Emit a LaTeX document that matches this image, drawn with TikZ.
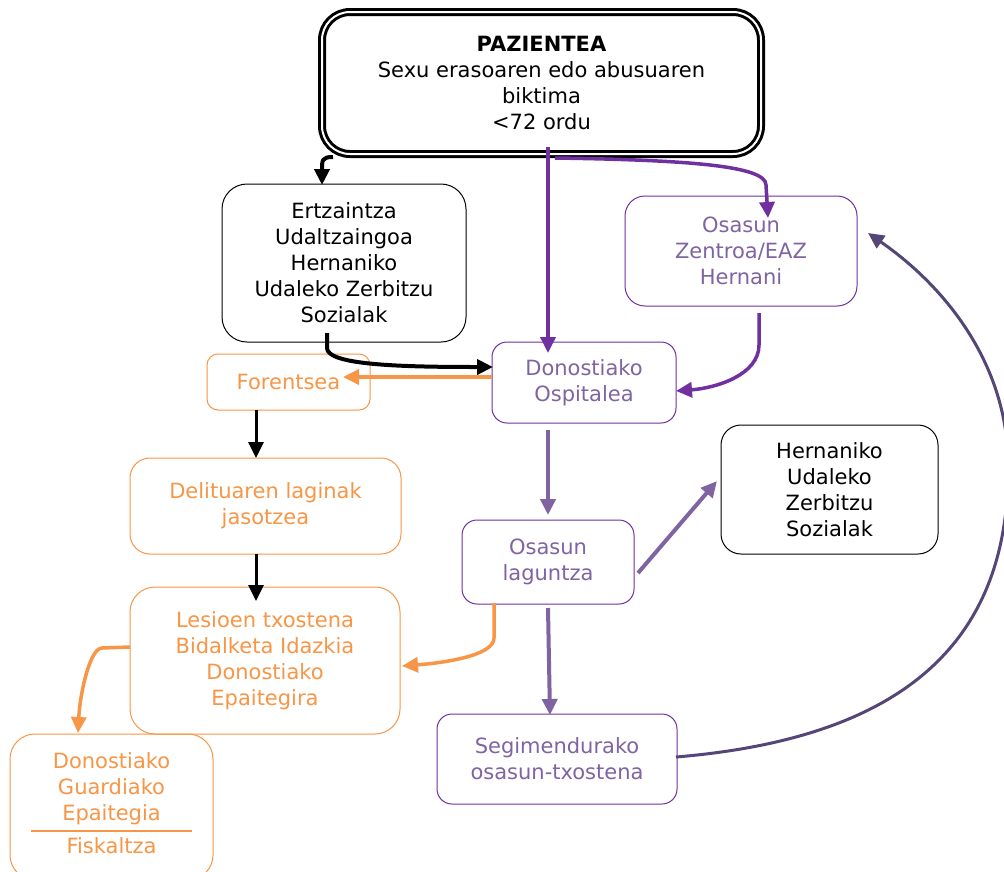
\documentclass[tikz,border=0pt]{standalone}
\usepackage{fontspec}
\setmainfont{DejaVu Sans}
\usetikzlibrary{arrows.meta,calc}
\definecolor{orng}{HTML}{F79646}
\definecolor{purtxt}{HTML}{8064A2}
\definecolor{purdk}{HTML}{7030A0}
\definecolor{curvec}{RGB}{85,70,120}
\begin{document}
\begin{tikzpicture}[x=1pt,y=-1pt,
  box/.style={draw, rounded corners=#1, align=center, inner sep=0pt, outer sep=0pt,
    font=\fontsize{21}{26}\selectfont, line width=1pt},
  box/.default=20pt,
  txt/.style={align=center, inner sep=0pt, outer sep=0pt, font=\fontsize{21}{26}\selectfont},
  tip/.style={-{Triangle[length=16pt,width=15pt]}},
  blk/.style={draw=black, line width=4pt, tip},
  blkthin/.style={draw=black, line width=3pt, tip},
  org/.style={draw=orng, line width=3.5pt, tip},
  pdk/.style={draw=purdk, line width=3.5pt, tip},
  plt/.style={draw=purtxt, line width=4pt, tip},
  crv/.style={draw=curvec, line width=3pt, tip},
]
\useasboundingbox[fill=white] (0,0) rectangle (1004,871);

% nodes
\node[box=28pt, draw=black, line width=3pt, double=white, double distance=2pt,
  minimum width=439pt, minimum height=142pt] (paz) at (541.5,83)
  {\textbf{PAZIENTEA}\\Sexu erasoaren edo abusuaren\\biktima\\<72 ordu};
\node[box=25pt, draw=black, minimum width=244pt, minimum height=158pt] (ertz) at (344,263)
  {Ertzaintza\\Udaltzaingoa\\Hernaniko\\Udaleko Zerbitzu\\Sozialak};
\node[box=11pt, draw=orng, text=orng, minimum width=163pt, minimum height=56pt] (for) at (288.5,382)
  {Forentsea};
\node[box=20pt, draw=orng, text=orng, minimum width=271pt, minimum height=96pt] (del) at (265.5,506)
  {Delituaren laginak\\jasotzea\rule[-4pt]{0pt}{4pt}};
\node[box=25pt, draw=orng, text=orng, minimum width=270pt, minimum height=147pt] (les) at (265,660.5)
  {Lesioen txostena\\Bidalketa Idazkia\\Donostiako\\Epaitegira};
\node[box=25pt, draw=orng, minimum width=203pt, minimum height=146pt] (gua) at (111.5,807) {};
\node[txt, text=orng] (guat) at (111.5,789) {Donostiako\\Guardiako\\Epaitegia};
\node[txt, text=orng] (fisk) at (111.5,846) {Fiskaltza};
\draw[orng, line width=2pt] ($(gua.south west)+(21,-49)$) -- ($(gua.south east)+(-21,-49)$);

\node[box=15pt, draw=purdk, text=purtxt, minimum width=184pt, minimum height=81pt] (osp) at (584,382.5)
  {Donostiako\\Ospitalea};
\node[box=20pt, draw=purdk, text=purtxt, minimum width=232pt, minimum height=110pt] (zen) at (741,251)
  {Osasun\\Zentroa/EAZ\\Hernani};
\node[box=15pt, draw=purdk, text=purtxt, minimum width=172pt, minimum height=84pt] (lag) at (548,562)
  {Osasun\\laguntza};
\node[box=15pt, draw=purdk, text=purtxt, minimum width=240pt, minimum height=90pt] (seg) at (557,759)
  {Segimendurako\\osasun-txostena};
\node[box=20pt, draw=black, minimum width=217pt, minimum height=129pt] (her) at (829.5,489.5)
  {Hernaniko\\Udaleko\\Zerbitzu\\Sozialak};

% connectors
\draw[blk] ($(paz.south west)+(11,3)$) .. controls +(-11,0) and +(0,-10) .. ($(ertz.north west)+(100,-14)$) -- ($(ertz.north west)+(100,1)$);
\draw[pdk] ($(paz.south)+(6.5,-7)$) -- ($(osp.north)+(-36,11)$);
\draw[pdk] ($(paz.south)+(13.5,4)$) .. controls +(135,2) and +(0,-19) .. ($(zen.north)+(25,-11)$) -- ($(zen.north)+(27,22)$);
\draw[blk] ($(ertz.south)+(-17,-9)$) -- ++(0,15) .. controls +(0,17) and +(-93,0) .. ($(osp.west)+(1,-15.5)$);
\draw[org] ($(osp.west)+(0,-5.5)$) -- ($(for.east)+(-27,-5)$);
\draw[pdk] ($(zen.south)+(18,7)$) -- ++(0,32) .. controls +(0,30) and +(40,-3) .. ($(osp.east)+(0,8.5)$);
\draw[blkthin] ($(for.south)+(-32.5,0)$) -- ($(del.north)+(-9.5,0)$);
\draw[blkthin] ($(del.south)+(-9.5,0)$) -- ($(les.north)+(-9,14)$);
\draw[org] ($(lag.south)+(-54,-1)$) -- ++(0,35) .. controls +(0,18) and +(40,-3) .. ($(les.east)+(2,5.5)$);
\draw[org] ($(les.west)+(0,-13.5)$) -- ++(-28,1) .. controls +(-12,0) and +(2,-40) .. ($(gua.north)+(-33.5,-1)$);
\draw[plt] ($(osp.south)+(-36,7)$) -- ($(lag.north)+(0,-5)$);
\draw[plt] ($(lag.south)+(0,4)$) -- ($(seg.north)+(-7,1)$);
\draw[plt] ($(lag.east)+(4,11)$) -- ($(her.west)+(-4,-8.5)$);
\draw[crv] ($(seg.east)+(-1,-2)$) .. controls (880,740) and (1008,660) .. (1008,470)
  .. controls (1010,370) and (950,290) .. ($(zen.east)+(11,-18)$);
\end{tikzpicture}
\end{document}
